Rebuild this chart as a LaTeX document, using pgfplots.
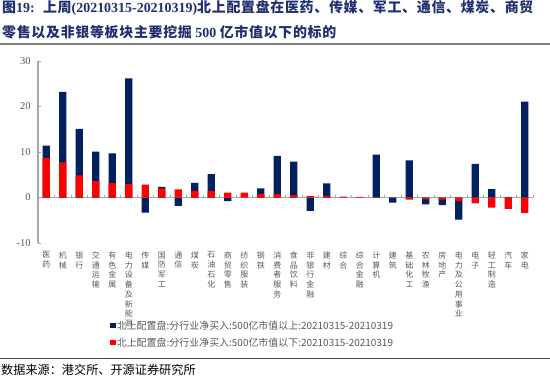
\documentclass[border=0pt]{standalone}
\usepackage{pgfplots}
\pgfplotsset{compat=1.18}
\usepackage{fontspec}
\setmainfont{Liberation Serif}
\newfontfamily\cjk{Noto Sans CJK SC}
\newfontfamily\cjkt[LetterSpace=5]{Noto Sans CJK SC}
\definecolor{navy}{HTML}{002060}
\definecolor{barred}{HTML}{FF0000}
\definecolor{labgray}{HTML}{595959}
\definecolor{axgray}{HTML}{A6A6A6}
\definecolor{titleblue}{HTML}{1F2F6F}
\begin{document}
\begin{tikzpicture}
\useasboundingbox (0bp,0bp) rectangle (550bp,-381bp);
\node[anchor=base west, inner sep=0pt, font=\fontsize{14}{16}\selectfont\bfseries, text=titleblue] at (2bp,-12.5bp) {{\cjkt 图}19:\hspace{0.6em}{\cjkt 上周}(20210315-20210319){\cjkt 北上配置盘在医药、传媒、军工、通信、煤炭、商贸}};
\node[anchor=base west, inner sep=0pt, font=\fontsize{14}{16}\selectfont\bfseries, text=titleblue] at (2bp,-37.5bp) {{\cjkt 零售以及非银等板块主要挖掘} 500 {\cjkt 亿市值以下的标的}};
\draw[gray, line width=1.5bp] (0bp,-44bp) -- (550bp,-44bp);
\begin{axis}[
  at={(38bp,-243bp)}, anchor=south west,
  scale only axis, width=495bp, height=182bp,
  xmin=0.5, xmax=30.5, ymin=-10, ymax=30,
  ytick={-10,0,10,20,30},
  axis y line=left, y axis line style={-, draw=axgray, line width=1.2bp},
  axis x line=middle, x axis line style={-, draw=axgray, line width=0.8bp},
  tick align=inside,
  xtick={1,...,30},
  major x tick style={draw=none},
  minor xtick={0.5,1.5,...,30.5},
  minor x tick style={draw=axgray},
  minor tick length=3bp,
  major tick length=3bp,
  y tick style={draw=axgray},
  xticklabels={{医\\药},{机\\械},{银\\行},{交\\通\\运\\输},{有\\色\\金\\属},{电\\力\\设\\备\\及\\新\\能\\源},{传\\媒},{国\\防\\军\\工},{通\\信},{煤\\炭},{石\\油\\石\\化},{商\\贸\\零\\售},{纺\\织\\服\\装},{钢\\铁},{消\\费\\者\\服\\务},{食\\品\\饮\\料},{非\\银\\行\\金\\融},{建\\材},{综\\合},{综\\合\\金\\融},{计\\算\\机},{建\\筑},{基\\础\\化\\工},{农\\林\\牧\\渔},{房\\地\\产},{电\\力\\及\\公\\用\\事\\业},{电\\子},{轻\\工\\制\\造},{汽\\车},{家\\电}},
  xticklabel style={font=\cjk\fontsize{8}{9.8}\selectfont, align=center, text=labgray, anchor=north, inner sep=0pt, yshift=-54bp},
  yticklabel style={font=\fontsize{10.5}{12}\selectfont, text=labgray, xshift=-4bp},
  /pgf/number format/assume math mode=true,
  legend style={at={(0.1455,-0.42)}, anchor=north west, draw=none, fill=none,
    font=\cjk\fontsize{10}{12}\selectfont, text=labgray, row sep=5bp, inner sep=0pt,
    nodes={inner sep=1bp}},
  legend cell align=left,
  legend image code/.code={\fill[#1] (0bp,-2.8bp) rectangle (5.6bp,2.8bp);},
]
\addplot[ybar, bar width=7.3bp, bar shift=0pt, fill=navy, draw=none] coordinates {
(1,11.4)(2,23.2)(3,15.1)(4,10.1)(5,9.7)(6,26.2)(7,-3.3)(8,2.35)(9,-1.85)(10,3.2)
(11,5.15)(12,-0.8)(13,0)(14,2.0)(15,9.15)(16,7.9)(17,-2.95)(18,3.1)(19,0)(20,0)
(21,9.4)(22,-1.1)(23,8.15)(24,-1.5)(25,-1.7)(26,-4.85)(27,7.4)(28,1.85)(29,0.1)(30,21.1)};
\addlegendentry{北上配置盘:分行业净买入:500亿市值以上:20210315-20210319}
\addplot[ybar, bar width=7.3bp, bar shift=0pt, fill=barred, draw=none] coordinates {
(1,8.7)(2,7.7)(3,4.85)(4,3.6)(5,3.15)(6,3.0)(7,2.85)(8,2.0)(9,1.8)(10,1.45)
(11,1.45)(12,1.1)(13,1.1)(14,0.8)(15,0.75)(16,0.5)(17,0.35)(18,0.35)(19,0.2)(20,0.15)
(21,0.05)(22,-0.1)(23,-0.45)(24,-0.4)(25,-0.45)(26,-0.8)(27,-1.3)(28,-2.2)(29,-2.5)(30,-3.4)};
\addlegendentry{北上配置盘:分行业净买入:500亿市值以下:20210315-20210319}
\end{axis}
\draw[black!75, line width=0.8bp] (0bp,-358bp) -- (550bp,-358bp);
\node[anchor=base west, inner sep=0pt, font=\cjk\fontsize{12.2}{14}\selectfont, text=black] at (1bp,-374bp) {数据来源：港交所、开源证券研究所};
\end{tikzpicture}
\end{document}
